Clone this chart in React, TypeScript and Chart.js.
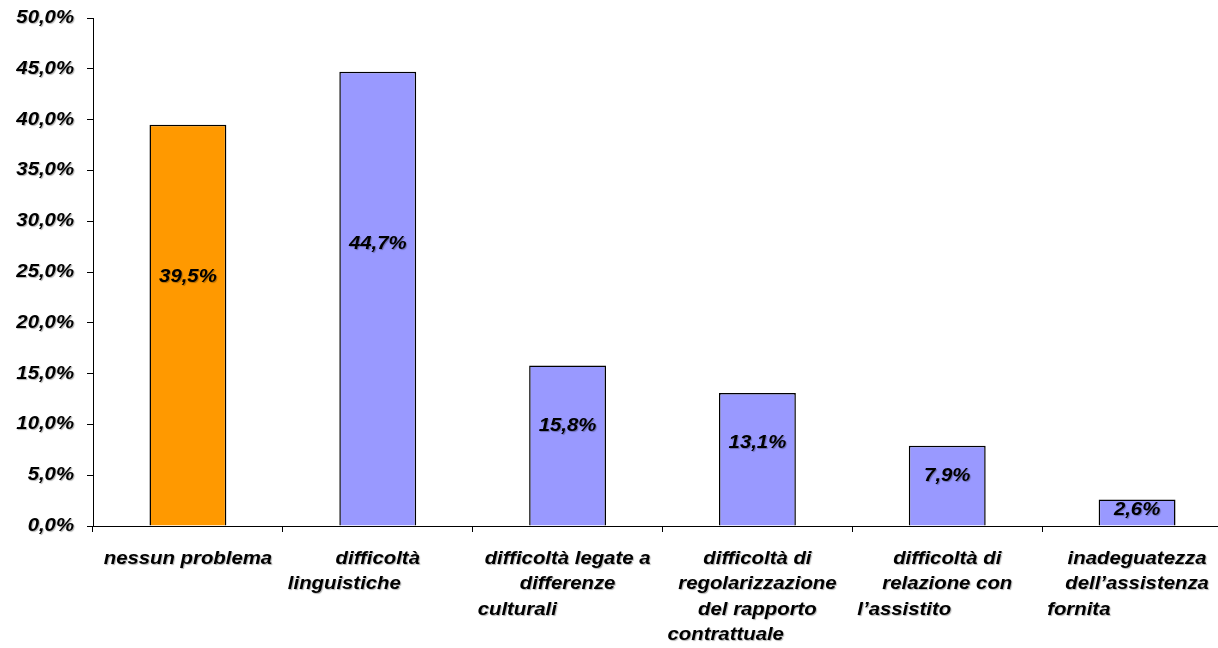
import React, { useEffect, useRef } from 'react';
import { Chart, registerables } from 'chart.js';

Chart.register(...registerables);

const categories: string[][] = [
  ['nessun problema'],
  ['difficoltà', 'linguistiche'],
  ['difficoltà legate a', 'differenze', 'culturali'],
  ['difficoltà di', 'regolarizzazione', 'del rapporto', 'contrattuale'],
  ['difficoltà di', 'relazione con', 'l\u2019assistito'],
  ['inadeguatezza', 'dell\u2019assistenza', 'fornita'],
];
const values: number[] = [39.5, 44.7, 15.8, 13.1, 7.9, 2.6];
const barColors: string[] = ['#FF9900', '#9999FF', '#9999FF', '#9999FF', '#9999FF', '#9999FF'];
const yMin = 0;
const yMax = 50;
const yStep = 5;

const FONT = 'italic bold 18px "Liberation Sans", Arial, sans-serif';
const STRETCH = 1.13;
const LABEL_FRACTION = 0.62;

const fmt = (v: number) => v.toFixed(1).replace('.', ',') + '%';

function drawText(
  ctx: CanvasRenderingContext2D,
  text: string,
  x: number,
  y: number,
  align: CanvasTextAlign,
  baseline: CanvasTextBaseline
) {
  ctx.save();
  ctx.translate(x, y);
  ctx.scale(STRETCH, 1);
  ctx.textAlign = align;
  ctx.textBaseline = baseline;
  ctx.fillText(text, 0, 0);
  ctx.restore();
}

const textPlugin = {
  id: 'customText',
  afterDraw(chart: any) {
    const ctx: CanvasRenderingContext2D = chart.ctx;
    const xs = chart.scales.x;
    const ys = chart.scales.y;
    const area = chart.chartArea;
    ctx.save();
    ctx.font = FONT;
    ctx.fillStyle = '#000';
    ctx.shadowColor = 'rgba(0,0,0,0.3)';
    ctx.shadowOffsetX = 1;
    ctx.shadowOffsetY = 1;
    ctx.shadowBlur = 1;

    ys.ticks.forEach((t: any) => {
      drawText(ctx, fmt(t.value), area.left - 19, ys.getPixelForValue(t.value), 'right', 'middle');
    });

    const catW = (area.right - area.left) / categories.length;
    categories.forEach((lines, i) => {
      const cx = xs.getPixelForValue(i);
      lines.forEach((line, j) => {
        const by = area.bottom + 38 + j * 25.3;
        if (lines.length > 1 && j === lines.length - 1) {
          drawText(ctx, line, cx - catW / 2 + 5, by, 'left', 'alphabetic');
        } else {
          drawText(ctx, line, cx, by, 'center', 'alphabetic');
        }
      });
    });

    const meta = chart.getDatasetMeta(0);
    meta.data.forEach((bar: any, i: number) => {
      const yy = ys.getPixelForValue(values[i] * LABEL_FRACTION);
      drawText(ctx, fmt(values[i]), bar.x, yy, 'center', 'middle');
    });
    ctx.restore();
  },
};

export default function App() {
  const ref = useRef<HTMLCanvasElement | null>(null);

  useEffect(() => {
    if (!ref.current) return;
    const chart = new Chart(ref.current, {
      type: 'bar',
      data: {
        labels: categories.map((c) => c.join(' ')),
        datasets: [
          {
            data: values,
            backgroundColor: barColors,
            borderColor: '#000',
            borderWidth: 1.5,
            barPercentage: 0.405,
            categoryPercentage: 1,
          },
        ],
      },
      options: {
        responsive: false,
        animation: false,
        devicePixelRatio: 1,
        layout: { padding: { top: 18, right: 8, left: 0, bottom: 0 } },
        plugins: {
          legend: { display: false },
          tooltip: { enabled: false },
        },
        scales: {
          x: {
            grid: {
              display: true,
              drawOnChartArea: false,
              drawTicks: true,
              tickLength: 6,
              color: '#000',
              offset: true,
            },
            border: { display: true, color: '#000', width: 1 },
            ticks: { color: 'rgba(0,0,0,0)', autoSkip: false, maxRotation: 0 },
            afterFit: (s: any) => {
              s.height = 122;
            },
          },
          y: {
            min: yMin,
            max: yMax,
            grid: {
              display: true,
              drawOnChartArea: false,
              drawTicks: true,
              tickLength: 6,
              color: '#000',
            },
            border: { display: true, color: '#000', width: 1 },
            ticks: { stepSize: yStep, color: 'rgba(0,0,0,0)' },
            afterFit: (s: any) => {
              s.width = 93;
            },
          },
        },
      },
      plugins: [textPlugin],
    });
    return () => chart.destroy();
  }, []);

  return (
    <div
      style={{
        position: 'fixed',
        left: 0,
        top: 0,
        width: 1218,
        height: 648,
        overflow: 'hidden',
        background: '#fff',
      }}
    >
      <canvas ref={ref} width={1240} height={648} style={{ display: 'block' }} />
    </div>
  );
}
